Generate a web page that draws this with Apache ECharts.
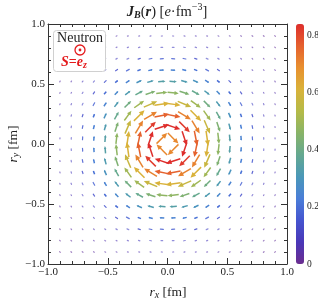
<!DOCTYPE html>
<html><head><meta charset="utf-8">
<script src="https://cdn.jsdelivr.net/npm/echarts@6/dist/echarts.min.js"></script>
<style>html,body{margin:0;padding:0;background:#fff}#c{width:318px;height:302px}</style>
</head><body><div id="c"></div>
<script>
// grid positions (fm) of the upper-right quadrant; the field is mirrored into all four quadrants
const gridPos = [0.0474, 0.1421, 0.2368, 0.3316, 0.4263, 0.5211, 0.6158, 0.7105, 0.8053, 0.9];
// |J_B| (e·fm^-3), row = x index, column = y index
const magnitude = [
 [0.70, 0.84, 0.76, 0.61, 0.47, 0.34, 0.245, 0.167, 0.108, 0.070],
 [0.84, 0.82, 0.71, 0.575, 0.44, 0.32, 0.235, 0.160, 0.103, 0.067],
 [0.76, 0.71, 0.61, 0.50, 0.385, 0.29, 0.205, 0.140, 0.094, 0.061],
 [0.61, 0.575, 0.50, 0.41, 0.32, 0.245, 0.176, 0.120, 0.083, 0.053],
 [0.47, 0.44, 0.385, 0.32, 0.257, 0.195, 0.140, 0.098, 0.067, 0.046],
 [0.34, 0.32, 0.29, 0.245, 0.195, 0.148, 0.108, 0.078, 0.053, 0.040],
 [0.245, 0.235, 0.205, 0.176, 0.140, 0.108, 0.083, 0.058, 0.044, 0.032],
 [0.167, 0.160, 0.140, 0.120, 0.098, 0.078, 0.058, 0.045, 0.034, 0.026],
 [0.108, 0.103, 0.094, 0.083, 0.067, 0.053, 0.044, 0.034, 0.027, 0.020],
 [0.070, 0.067, 0.061, 0.053, 0.046, 0.040, 0.032, 0.026, 0.020, 0.015]
];
const axisTicks = [-1, -0.5, 0, 0.5, 1];
const colorTicks = [0, 0.2, 0.4, 0.6, 0.8];
const colorMax = 0.84;
const rainbow = ['#6b2d8f','#4a37b8','#4555cf','#4a7ed8','#4a98b8','#64a890','#88b468','#b5ba48','#d9b23a','#e8902f','#e5602e','#de2e2c'];

// build the field: azimuthal (clockwise) current, magnitude from the table
const field = [];
for (const sx of [-1, 1]) for (const sy of [-1, 1])
  for (let i = 0; i < gridPos.length; i++) for (let j = 0; j < gridPos.length; j++) {
    const x = sx * gridPos[i], y = sy * gridPos[j];
    const r = Math.hypot(x, y);
    field.push([x, y, y / r, -x / r, magnitude[i][j]]);
  }

const FONT = '"Liberation Serif", "DejaVu Serif", serif';
const ctx = document.createElement('canvas').getContext('2d');
function mathGroup(parts, cx, cy, rotation) {
  let w = 0; const items = [];
  for (const p of parts) {
    ctx.font = `${p.st || 'normal'} ${p.w || 'normal'} ${p.s}px ${FONT}`;
    const tw = ctx.measureText(p.t).width;
    items.push({ p, x: w }); w += tw;
  }
  return { type: 'group', x: cx, y: cy, rotation: rotation || 0,
    children: items.map(({ p, x }) => ({ type: 'text', z: 100, x: x - w / 2, y: p.dy || 0,
      style: { text: p.t, fontSize: p.s, fontFamily: FONT, fontStyle: p.st || 'normal',
        fontWeight: p.w || 'normal', fill: p.c || '#222', verticalAlign: 'middle', align: 'left' } })) };
}

function renderItem(params, api) {
  const x = api.value(0), y = api.value(1), ux = api.value(2), uy = api.value(3), m = api.value(4);
  const c = api.coord([x, y]);
  const L = Math.max(0.9, Math.min(30 * Math.pow(m, 1.3), 15));
  const dx = ux * L, dy = -uy * L;
  const sx = c[0] - dx / 2, sy = c[1] - dy / 2, ex = c[0] + dx / 2, ey = c[1] + dy / 2;
  const color = api.visual('color');
  const children = [];
  if (L > 3.5) {
    const hl = Math.min(L * 0.38, 5.5), hw = Math.min(L * 0.17, 2.6);
    const bx = ex - ux * hl, by = ey + uy * hl;
    const px = -dy / L, py = dx / L;
    children.push({ type: 'line', shape: { x1: sx, y1: sy, x2: bx + ux * 1, y2: by - uy * 1 }, style: { stroke: color, lineWidth: 1.5 } });
    children.push({ type: 'polygon', shape: { points: [[ex, ey], [bx + px * hw, by + py * hw], [bx - px * hw, by - py * hw]] }, style: { fill: color } });
  } else {
    children.push({ type: 'line', shape: { x1: sx, y1: sy, x2: ex, y2: ey },
      style: { stroke: color, lineWidth: 1.2, lineCap: 'round', opacity: L < 2 ? 0.6 : 0.85 } });
  }
  return { type: 'group', children };
}

const fmt = v => (v < 0 ? '\u2212' : '') + Math.abs(v).toFixed(1);
const axisCommon = {
  min: -1, max: 1, interval: 0.5,
  axisLine: { show: true, onZero: false, lineStyle: { color: '#333', width: 1 } },
  axisTick: { show: true, inside: true, length: 6, lineStyle: { color: '#333' } },
  minorTick: { show: true, splitNumber: 5, length: 3, lineStyle: { color: '#333' } },
  splitLine: { show: false }, minorSplitLine: { show: false }
};
const labelStyle = { fontFamily: FONT, fontSize: 11, color: '#222' };

const chart = echarts.init(document.getElementById('c'), null, { renderer: 'canvas' });
chart.setOption({
  backgroundColor: '#fff',
  animation: false,
  grid: [
    { left: 48, right: 31, top: 24, bottom: 38, outerBoundsMode: 'none', containLabel: false },
    { left: 296, width: 8, top: 24, bottom: 38, outerBoundsMode: 'none', containLabel: false }
  ],
  xAxis: [
    Object.assign({ type: 'value', gridIndex: 0, position: 'bottom',
      axisLabel: Object.assign({ margin: 3, formatter: fmt, showMinLabel: true, showMaxLabel: true }, labelStyle) }, axisCommon),
    Object.assign({ type: 'value', gridIndex: 0, position: 'top', axisLabel: { show: false } }, axisCommon),
    { type: 'value', gridIndex: 1, show: false, min: 0, max: 1 }
  ],
  yAxis: [
    Object.assign({ type: 'value', gridIndex: 0, position: 'left',
      axisLabel: Object.assign({ margin: 3, formatter: fmt, showMinLabel: true, showMaxLabel: true }, labelStyle) }, axisCommon),
    Object.assign({ type: 'value', gridIndex: 0, position: 'right', axisLabel: { show: false } }, axisCommon),
    { type: 'value', gridIndex: 1, position: 'right', min: 0, max: colorMax, interval: 0.2,
      axisLine: { show: false }, axisTick: { show: false }, splitLine: { show: false },
      axisLabel: { margin: 3, fontFamily: FONT, fontSize: 9.5, color: '#222', showMaxLabel: false,
        formatter: v => colorTicks.some(t => Math.abs(t - v) < 1e-6) ? (v === 0 ? '0' : v.toFixed(1)) : '' } }
  ],
  visualMap: {
    type: 'continuous', min: 0, max: colorMax, dimension: 4, seriesIndex: 0,
    left: 296, top: 24, itemWidth: 8, itemHeight: 240, padding: 0,
    calculable: false, text: null, showLabel: false, orient: 'vertical',
    inRange: { color: rainbow }
  },
  series: [{
    type: 'custom', xAxisIndex: 0, yAxisIndex: 0, renderItem, data: field, clip: true, z: 2
  }],
  graphic: [
    mathGroup([
      { t: 'J', s: 14.5, st: 'italic', w: 'bold' }, { t: 'B', s: 10, st: 'italic', w: 'bold', dy: 3 },
      { t: '(', s: 14.5 }, { t: 'r', s: 14.5, st: 'italic', w: 'bold' }, { t: ') [', s: 14.5 },
      { t: 'e', s: 14.5, st: 'italic' }, { t: '\u00b7fm', s: 14.5 }, { t: '\u22123', s: 10, dy: -5 }, { t: ']', s: 14.5 }
    ], 167, 12),
    mathGroup([{ t: 'r', s: 13.5, st: 'italic' }, { t: 'x', s: 10, st: 'italic', dy: 3 }, { t: ' [fm]', s: 13.5 }], 168, 292),
    mathGroup([{ t: 'r', s: 13.5, st: 'italic' }, { t: 'y', s: 10, st: 'italic', dy: 3 }, { t: ' [fm]', s: 13.5 }], 13, 144, Math.PI / 2),
    { type: 'rect', z: 90, shape: { x: 53.5, y: 30.5, width: 52, height: 41, r: 3 }, style: { fill: '#fff', stroke: '#d0d0d0', lineWidth: 1 } },
    mathGroup([{ t: 'Neutron', s: 14 }], 80, 38),
    { type: 'circle', z: 100, shape: { cx: 80, cy: 50, r: 5 }, style: { fill: 'none', stroke: '#e41a1c', lineWidth: 1.3 } },
    { type: 'circle', z: 100, shape: { cx: 80, cy: 50, r: 1.4 }, style: { fill: '#e41a1c' } },
    mathGroup([
      { t: 'S', s: 14, st: 'italic', w: 'bold', c: '#e41a1c' }, { t: '=', s: 14, w: 'bold', c: '#e41a1c' },
      { t: 'e', s: 14, st: 'italic', w: 'bold', c: '#e41a1c' }, { t: 'z', s: 10, st: 'italic', w: 'bold', c: '#e41a1c', dy: 3 }
    ], 74, 62)
  ]
});
</script></body></html>
